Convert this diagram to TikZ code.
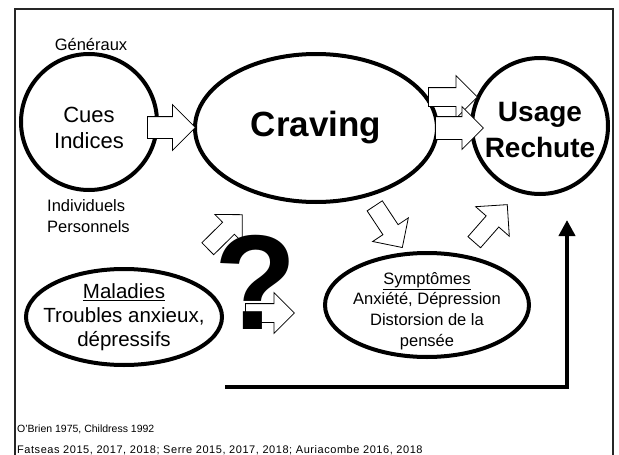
\documentclass[tikz,border=0pt]{standalone}
\usepackage{fontspec}
\setmainfont{Liberation Sans}
\usetikzlibrary{shapes.geometric,shapes.arrows,arrows.meta}

\tikzset{
  bulle/.style={ellipse, draw, line width=4pt, inner sep=0pt},
  rond/.style={circle, draw, line width=4pt, inner sep=0pt, minimum size=136pt},
  fleche/.style={single arrow, draw, fill=white, line width=0.8pt, inner sep=0pt,
    single arrow head indent=0pt, single arrow tip angle=90, anchor=tail},
  refs/.style={font=\fontsize{11}{13}\selectfont, anchor=west, inner sep=0pt},
}

\begin{document}
\begin{tikzpicture}[x=1pt, y=-1pt]
    \useasboundingbox (0,0) rectangle (619,455);
    % Cadre
    \draw[line width=2pt, black!85] (15,458) -- (15,9) -- (613,9) -- (613,458);

    % Bulles principales
    \node[rond] (cues) at (89,122) {};
    \node[font=\fontsize{22}{26}\selectfont, align=center] (cuestxt) at (89,128) {Cues\\Indices};
    \node[bulle, minimum width=242pt, minimum height=148pt, font=\fontsize{35}{40}\selectfont\bfseries] (craving) at (316,128) {Craving};
    \node[rond] (usage) at (540,126) {};
    \node[font=\fontsize{28}{36}\selectfont\bfseries, align=center] (usagetxt) at (540,130) {Usage\\Rechute};

    % Bulles du bas
    \node[bulle, minimum width=196pt, minimum height=96pt] (maladies) at (124,317) {};
    \node[font=\fontsize{20.5}{24}\selectfont, align=center] (maladiestxt) at (124,317) {\underline{Maladies}\\Troubles anxieux,\\dépressifs};
    \node[bulle, minimum width=204pt, minimum height=104pt] (symptomes) at (427,305) {};
    \node[font=\fontsize{16.5}{20.7}\selectfont, align=center] (symptomestxt) at (427,311) {\underline{Symptômes}\\Anxiété, Dépression\\Distorsion de la\\pensée};

    % Textes libres
    \node[font=\fontsize{16.5}{20}\selectfont] (generaux) at (91,45) {Généraux};
    \node[font=\fontsize{16.5}{21}\selectfont, align=left, anchor=west, inner sep=0pt] (individuels) at (47,216.5) {Individuels\\Personnels};

    % Fleches pleines
    \node[fleche, minimum height=48pt, inner ysep=10.5pt, single arrow head extend=12pt] (f1) at (147,127.5) {};
    \node[fleche, minimum height=49pt, inner ysep=9pt, single arrow head extend=12pt] (f2) at (428,97) {};
    \node[fleche, minimum height=48pt, inner ysep=11pt, single arrow head extend=10pt] (f3) at (435,128) {};
    \node[fleche, minimum height=50pt, inner ysep=8.7pt, single arrow head extend=12.3pt, rotate=-56.5] (f4) at (374.5,205.5) {};
    \node[fleche, minimum height=50pt, inner ysep=8pt, single arrow head extend=14pt, rotate=48.7] (f5) at (474,242.5) {};
    \node[fleche, minimum height=48.5pt, inner ysep=8pt, single arrow head extend=11pt, rotate=44.6] (f6) at (207.5,249) {};
    \node[fleche, minimum height=49pt, inner ysep=9pt, single arrow head extend=11pt] (f7) at (245,313) {};

    % Point d'interrogation
    \node[font=\fontsize{135}{135}\selectfont\bfseries, inner sep=0pt] (question) at (256,282) {?};

    % Boucle de retour
    \coordinate (retour) at (225,387);
    \coordinate (cible) at (567,220);
    \draw[line width=4pt, -{Triangle[width=16pt,length=16pt]}] (retour) -| (cible);

    % References
    \node[refs, font=\fontsize{10.5}{13}\selectfont] (obrien) at (17,429) {O'Brien 1975, Childress 1992};
    \node[refs] (fatseas) at (17,450) {\addfontfeature{LetterSpace=5}Fatseas 2015, 2017, 2018; Serre 2015, 2017, 2018; Auriacombe 2016, 2018};
\end{tikzpicture}
\end{document}
